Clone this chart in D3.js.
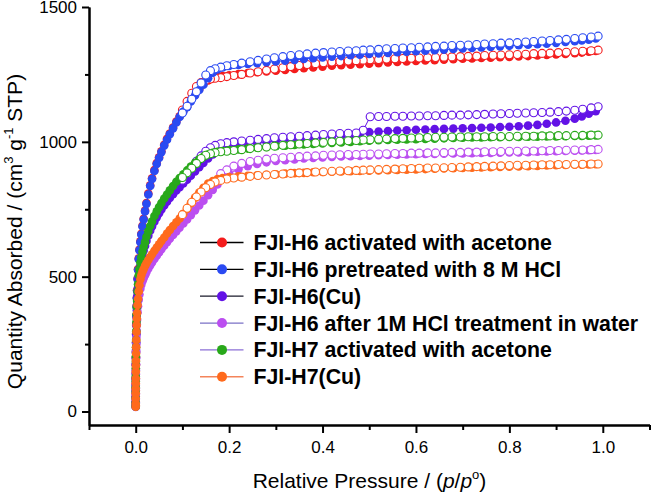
<!DOCTYPE html>
<html>
<head>
<meta charset="utf-8">
<script src="https://cdn.jsdelivr.net/npm/d3@7/dist/d3.min.js"></script>
<style>
  html, body { margin: 0; padding: 0; background: #fff; }
  svg { display: block; }
  text { font-family: "Liberation Sans", Arial, Helvetica, sans-serif; }
</style>
</head>
<body>
<svg id="chart" width="652" height="495"></svg>
<script>
// ---------- DATA ----------
const seriesNames = [
  "FJI-H6 activated with acetone",
  "FJI-H6 pretreated with 8 M HCl",
  "FJI-H6(Cu)",
  "FJI-H6 after 1M HCl treatment in water",
  "FJI-H7 activated with acetone",
  "FJI-H7(Cu)"
];
const markerColors = ["#f41c1c", "#2a4af2", "#6212e6", "#bb4ef0", "#28a81a", "#ff6a1c"];
const legendLineColors = ["#000000", "#000000", "#1a1a2a", "#7a70c6", "#8b6fd6", "#f4845a"];

const xTicksMajor = [0.0, 0.2, 0.4, 0.6, 0.8, 1.0];
const xTicksMinor = [-0.1, 0.1, 0.3, 0.5, 0.7, 0.9, 1.1];
const yTicksMajor = [0, 500, 1000, 1500];
const yTicksMinor = [250, 750, 1250];

// adsorption branch relative pressures (shared)
const pressureAds = [
  0.00001, 0.00002, 0.00004, 0.00007, 0.0001, 0.00015, 0.0002, 0.0003, 0.0004, 0.0005,
  0.0007, 0.0009, 0.0012, 0.0016, 0.002, 0.0025, 0.003, 0.004, 0.005, 0.0065,
  0.008, 0.01, 0.012, 0.0145, 0.017, 0.02, 0.023, 0.027, 0.031, 0.035,
  0.04, 0.045, 0.05, 0.055, 0.061, 0.067, 0.073, 0.08, 0.087, 0.094,
  0.102, 0.11, 0.118, 0.127, 0.136, 0.145, 0.155, 0.165, 0.175, 0.186,
  0.20, 0.22, 0.24, 0.26, 0.28, 0.30, 0.32, 0.34, 0.36, 0.38,
  0.40, 0.42, 0.44, 0.46, 0.48, 0.50, 0.52, 0.54, 0.56, 0.58,
  0.60, 0.62, 0.64, 0.66, 0.68, 0.70, 0.72, 0.74, 0.76, 0.78,
  0.80, 0.82, 0.84, 0.86, 0.88, 0.90, 0.92, 0.94, 0.955, 0.97, 0.985
];
// desorption branch relative pressures (shared)
const pressureDes = [
  0.99, 0.975, 0.957, 0.94, 0.922, 0.905, 0.887, 0.87, 0.852, 0.835,
  0.817, 0.80, 0.782, 0.765, 0.747, 0.73, 0.712, 0.695, 0.677, 0.66,
  0.642, 0.625, 0.607, 0.59, 0.572, 0.555, 0.537, 0.52, 0.502, 0.487,
  0.472, 0.455, 0.437, 0.42, 0.402, 0.385, 0.367, 0.35, 0.332, 0.315,
  0.297, 0.28, 0.262, 0.245, 0.227, 0.21, 0.195, 0.182, 0.17, 0.16,
  0.15, 0.14, 0.13, 0.12, 0.11, 0.10
];

// FJI-H6 activated with acetone (red)
const h6AcetoneAds = [
  23, 37, 57, 79, 99, 123, 143, 175, 201, 223,
  258, 288, 323, 358, 391, 423, 450, 493, 528, 568,
  601, 631, 659, 689, 715, 745, 773, 808, 839, 865,
  895, 921, 943, 965, 989, 1011, 1031, 1053, 1075, 1095,
  1115, 1131, 1153, 1175, 1195, 1215, 1228, 1236, 1240, 1244,
  1247, 1251, 1255, 1258, 1261, 1264, 1267, 1270, 1273, 1276,
  1279, 1282, 1284, 1286, 1288, 1290, 1292, 1294, 1296, 1298,
  1300, 1302, 1303, 1305, 1306, 1308, 1309, 1311, 1312, 1314,
  1315, 1317, 1318, 1320, 1322, 1324, 1326, 1329, 1331, 1334, 1337
];
const h6AcetoneDes = [
  1340, 1338, 1336, 1334, 1332, 1331, 1329, 1328, 1327, 1325,
  1324, 1323, 1322, 1321, 1320, 1318, 1317, 1316, 1315, 1314,
  1313, 1312, 1311, 1310, 1309, 1308, 1307, 1305, 1304, 1303,
  1301, 1300, 1298, 1296, 1293, 1290, 1287, 1283, 1279, 1275,
  1270, 1265, 1260, 1255, 1250, 1246, 1242, 1238, 1236, 1233,
  1228, 1220, 1205, 1180, 1150, 1118
];

// FJI-H6 pretreated with 8 M HCl (blue)
const h6HclAds = [
  20, 34, 54, 76, 96, 120, 140, 172, 198, 220,
  255, 285, 320, 355, 388, 420, 447, 490, 525, 565,
  598, 628, 656, 686, 712, 742, 770, 805, 836, 862,
  892, 918, 940, 962, 986, 1008, 1028, 1050, 1072, 1092,
  1112, 1128, 1150, 1172, 1192, 1212, 1236, 1256, 1268, 1276,
  1281, 1285, 1289, 1292, 1295, 1298, 1301, 1304, 1307, 1310,
  1313, 1316, 1318, 1321, 1323, 1326, 1328, 1330, 1332, 1334,
  1336, 1338, 1340, 1342, 1344, 1346, 1348, 1350, 1352, 1354,
  1356, 1358, 1360, 1362, 1364, 1367, 1370, 1373, 1376, 1379, 1383
];
const h6HclDes = [
  1392, 1389, 1386, 1383, 1380, 1378, 1376, 1374, 1372, 1370,
  1368, 1367, 1366, 1364, 1363, 1361, 1359, 1358, 1357, 1355,
  1354, 1352, 1351, 1349, 1348, 1346, 1345, 1343, 1341, 1340,
  1338, 1337, 1335, 1333, 1331, 1329, 1326, 1323, 1320, 1316,
  1312, 1307, 1302, 1297, 1292, 1287, 1282, 1277, 1271, 1264,
  1248, 1218, 1186, 1158, 1132, 1107
];

// FJI-H6(Cu) (violet)
const h6CuAds = [
  18, 30, 48, 68, 86, 106, 124, 152, 176, 196,
  228, 255, 287, 320, 348, 375, 398, 432, 460, 492,
  516, 540, 560, 580, 597, 614, 632, 652, 670, 686,
  704, 720, 735, 749, 764, 778, 792, 806, 820, 832,
  846, 860, 874, 890, 906, 922, 938, 953, 966, 976,
  984, 989, 993, 996, 999, 1002, 1005, 1008, 1011, 1014,
  1017, 1020, 1023, 1026, 1030, 1036, 1038, 1040, 1042, 1043,
  1045, 1046, 1047, 1048, 1049, 1050, 1051, 1052, 1053, 1055,
  1056, 1058, 1060, 1063, 1067, 1072, 1078, 1086, 1094, 1104, 1114
];
const h6CuDes = [
  1130, 1126, 1121, 1117, 1114, 1112, 1110, 1109, 1108, 1107,
  1106, 1105, 1104, 1103, 1102, 1101, 1100, 1099, 1099, 1098,
  1097, 1097, 1096, 1096, 1095, 1095, 1094, 1094, 1093, 1043,
  1033, 1032, 1031, 1029, 1027, 1025, 1023, 1021, 1019, 1017,
  1015, 1012, 1009, 1006, 1003, 1000, 997, 993, 987, 978,
  965, 948, 928, 906, 882, 858
];

// FJI-H6 after 1M HCl treatment in water (magenta)
const h6WaterAds = [
  17, 28, 45, 64, 80, 98, 114, 138, 158, 175,
  200, 222, 248, 276, 300, 322, 340, 368, 390, 414,
  434, 455, 470, 483, 494, 505, 517, 530, 542, 553,
  566, 578, 590, 602, 615, 628, 641, 655, 668, 682,
  697, 712, 728, 746, 764, 782, 802, 822, 842, 862,
  882, 898, 910, 918, 924, 929, 932, 935, 938, 940,
  942, 944, 946, 947, 948, 949, 950, 951, 952, 953,
  954, 955, 955, 956, 957, 957, 958, 959, 959, 960,
  961, 961, 962, 963, 964, 965, 966, 967, 968, 969, 970
];
const h6WaterDes = [
  972, 971, 970, 970, 969, 968, 968, 967, 966, 966,
  965, 965, 964, 963, 963, 962, 962, 961, 961, 960,
  959, 959, 958, 958, 957, 957, 956, 955, 955, 954,
  953, 953, 952, 951, 950, 948, 947, 945, 943, 941,
  939, 936, 932, 927, 920, 910, 896, 882, null, null,
  null, null, null, null, null, null
];

// FJI-H7 activated with acetone (green)
const h7AcetoneAds = [
  19, 32, 50, 72, 90, 112, 130, 160, 185, 205,
  238, 265, 298, 332, 360, 388, 410, 445, 472, 505,
  528, 552, 572, 592, 610, 628, 648, 668, 688, 705,
  725, 742, 758, 773, 790, 805, 820, 836, 852, 866,
  880, 894, 908, 922, 935, 945, 953, 959, 963, 966,
  969, 972, 975, 978, 981, 984, 986, 988, 990, 992,
  994, 996, 998, 1000, 1002, 1004, 1006, 1007, 1008, 1009,
  1010, 1011, 1012, 1013, 1014, 1015, 1016, 1016, 1017, 1017,
  1018, 1018, 1019, 1019, 1020, 1020, 1021, 1022, 1022, 1023, 1024
];
const h7AcetoneDes = [
  1025, 1025, 1024, 1024, 1023, 1023, 1022, 1022, 1021, 1021,
  1021, 1020, 1020, 1020, 1019, 1019, 1019, 1018, 1018, 1017,
  1017, 1016, 1015, 1014, 1013, 1012, 1011, 1010, 1008, 1007,
  1005, 1004, 1002, 1000, 998, 996, 994, 992, 989, 987,
  984, 981, 978, 975, 971, 968, 965, 963, 960, 956,
  950, 938, 920, 902, 885, 868
];

// FJI-H7(Cu) (orange)
const h7CuAds = [
  18, 30, 48, 68, 85, 105, 122, 148, 170, 188,
  215, 238, 265, 295, 320, 345, 365, 395, 418, 445,
  468, 490, 505, 518, 528, 540, 550, 562, 573, 583,
  596, 608, 620, 632, 645, 660, 673, 688, 702, 716,
  733, 752, 772, 793, 812, 830, 845, 855, 862, 866,
  869, 872, 874, 876, 878, 880, 882, 884, 885, 887,
  888, 889, 890, 891, 892, 893, 894, 895, 896, 897,
  898, 899, 900, 901, 902, 903, 904, 905, 906, 907,
  908, 909, 910, 911, 912, 913, 914, 915, 915, 916, 917
];
const h7CuDes = [
  918, 918, 917, 917, 916, 916, 915, 915, 914, 913,
  913, 912, 911, 910, 909, 908, 907, 906, 905, 904,
  903, 903, 902, 901, 900, 899, 898, 897, 896, 895,
  894, 893, 892, 891, 889, 888, 886, 885, 883, 881,
  879, 877, 875, 872, 869, 866, 862, 857, 851, 842,
  830, 814, 796, 776, 754, 730
];

const adsValues = [h6AcetoneAds, h6HclAds, h6CuAds, h6WaterAds, h7AcetoneAds, h7CuAds];
const desValues = [h6AcetoneDes, h6HclDes, h6CuDes, h6WaterDes, h7AcetoneDes, h7CuDes];

// ---------- CHART ----------
const svg = d3.select("#chart");
const x = d3.scaleLinear().domain([-0.1, 1.1]).range([89, 649.5]);
const y = d3.scaleLinear().domain([-50, 1500]).range([425, 7]);

const series = seriesNames.map((name, i) => ({
  name,
  color: markerColors[i],
  legendLine: legendLineColors[i],
  ads: pressureAds.map((p, j) => ({ p, v: adsValues[i][j] })).filter(d => d.v != null),
  des: pressureDes.map((p, j) => ({ p, v: desValues[i][j] })).filter(d => d.v != null)
}));

const line = d3.line().x(d => x(d.p)).y(d => y(d.v));
const plot = svg.append("g");

series.forEach(s => {
  const g = plot.append("g");
  g.append("path").attr("d", line(s.ads)).attr("fill", "none")
    .attr("stroke", s.color).attr("stroke-width", 1);
  g.selectAll("circle.ads").data(s.ads).enter().append("circle")
    .attr("class", "ads")
    .attr("cx", d => x(d.p)).attr("cy", d => y(d.v)).attr("r", 4.3)
    .attr("fill", s.color);
  g.append("path").attr("d", line(s.des)).attr("fill", "none")
    .attr("stroke", s.color).attr("stroke-width", 1);
  g.selectAll("circle.des").data(s.des).enter().append("circle")
    .attr("class", "des")
    .attr("cx", d => x(d.p)).attr("cy", d => y(d.v)).attr("r", 4)
    .attr("fill", "#fff").attr("stroke", s.color).attr("stroke-width", 1.1);
});

// axes
function styleAxis(g) {
  g.selectAll("path.domain").attr("stroke", "#000").attr("stroke-width", 2);
  g.selectAll(".tick line").attr("stroke", "#000").attr("stroke-width", 2);
  g.selectAll(".tick text").attr("fill", "#000")
    .style("font-family", '"Liberation Sans", Arial, sans-serif').style("font-size", "17px");
}

const xAxisMinor = svg.append("g").attr("transform", "translate(0,425)")
  .call(d3.axisBottom(x).tickValues(xTicksMinor).tickSize(5).tickSizeOuter(0).tickFormat(""));
styleAxis(xAxisMinor);
const xAxis = svg.append("g").attr("transform", "translate(0,425)")
  .call(d3.axisBottom(x).tickValues(xTicksMajor).tickSize(8).tickSizeOuter(0).tickPadding(8)
    .tickFormat(d3.format(".1f")));
styleAxis(xAxis);

const yAxisMinor = svg.append("g").attr("transform", "translate(89,0)")
  .call(d3.axisLeft(y).tickValues(yTicksMinor).tickSize(4).tickSizeOuter(0).tickFormat(""));
styleAxis(yAxisMinor);
const yAxis = svg.append("g").attr("transform", "translate(89,0)")
  .call(d3.axisLeft(y).tickValues(yTicksMajor).tickSize(7).tickSizeOuter(0).tickPadding(5)
    .tickFormat(d3.format("d")));
styleAxis(yAxis);

// axis titles
const xt = svg.append("text").attr("x", 369.5).attr("y", 488)
  .attr("text-anchor", "middle").style("font-size", "21px").attr("fill", "#000");
xt.append("tspan").text("Relative Pressure / (");
xt.append("tspan").style("font-style", "italic").text("p");
xt.append("tspan").text("/");
xt.append("tspan").style("font-style", "italic").text("p");
xt.append("tspan").attr("dy", -9).style("font-size", "13px").text("o");
xt.append("tspan").attr("dy", 9).text(")");

const yt = svg.append("text").attr("transform", "translate(22,231.5) rotate(-90)")
  .attr("text-anchor", "middle").style("font-size", "21px").attr("fill", "#000");
yt.append("tspan").text("Quantity Absorbed / (cm");
yt.append("tspan").attr("dy", -9).style("font-size", "13px").text("3");
yt.append("tspan").attr("dy", 9).text(" g");
yt.append("tspan").attr("dy", -9).style("font-size", "13px").text("-1");
yt.append("tspan").attr("dy", 9).text(" STP)");

// legend
const legend = svg.append("g");
series.forEach((s, i) => {
  const cy = 242.5 + i * 26.85;
  legend.append("line").attr("x1", 200).attr("x2", 243.5).attr("y1", cy).attr("y2", cy)
    .attr("stroke", s.legendLine).attr("stroke-width", 1.3);
  legend.append("circle").attr("cx", 222).attr("cy", cy).attr("r", 5).attr("fill", s.color);
  legend.append("text").attr("x", 253.5).attr("y", cy + 7.5)
    .style("font-size", "21.3px").style("font-weight", "bold").attr("fill", "#000")
    .text(s.name);
});
</script>
</body>
</html>
